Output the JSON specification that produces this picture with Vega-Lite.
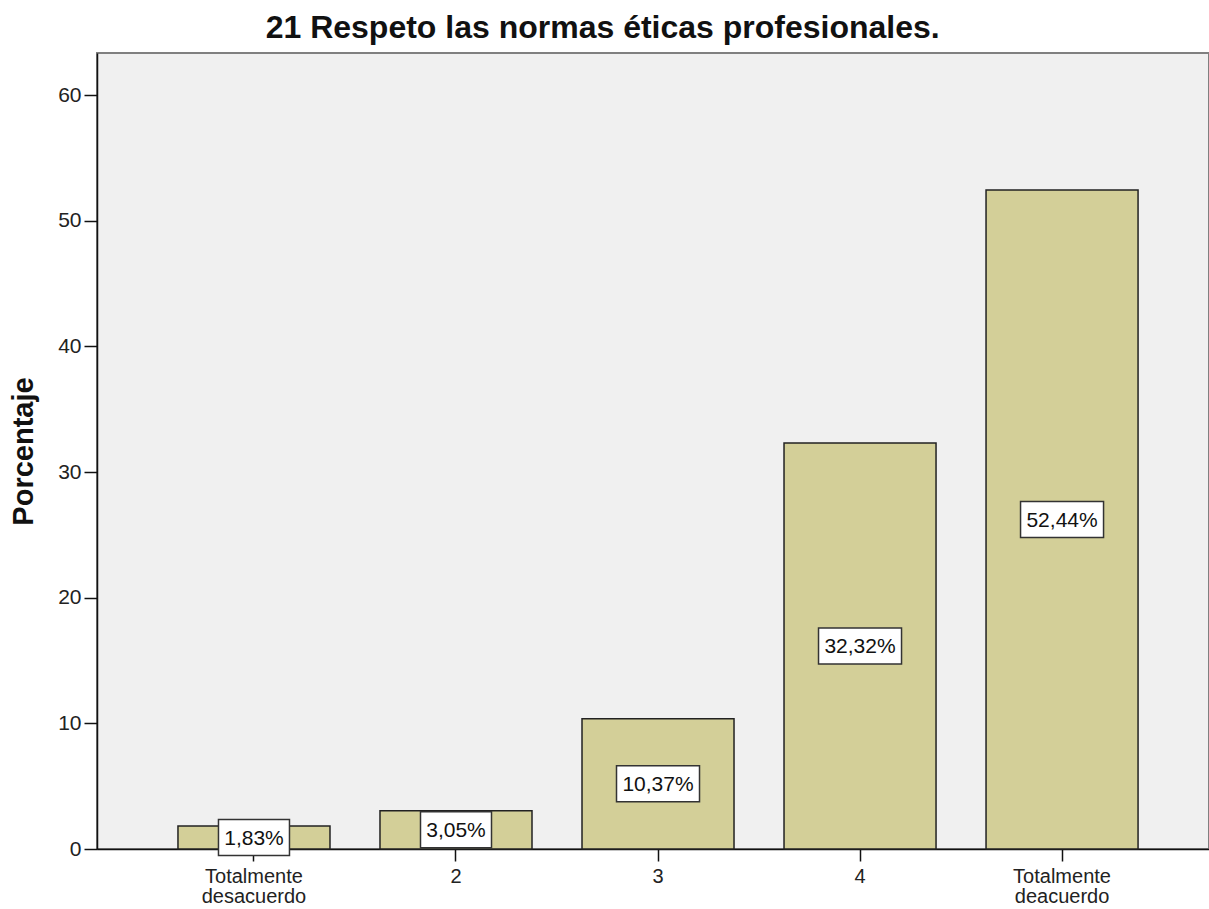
{
  "$schema": "https://vega.github.io/schema/vega-lite/v6.json",
  "width": 1112,
  "height": 796,
  "autosize": "none",
  "padding": {"left": 97, "top": 53, "right": 0, "bottom": 60},
  "background": "white",
  "config": {
    "font": "Liberation Sans",
    "view": {"fill": "#f0f0f0", "stroke": "#808080", "strokeWidth": 2}
  },
  "title": {
    "text": "21 Respeto las normas éticas profesionales.",
    "fontSize": 32,
    "fontWeight": "bold",
    "color": "#111111",
    "anchor": "start",
    "dx": 256,
    "offset": 8
  },
  "data": {
    "values": [
      {"category": "Totalmente|desacuerdo", "value": 1.83, "label": "1,83%"},
      {"category": "2", "value": 3.05, "label": "3,05%"},
      {"category": "3", "value": 10.37, "label": "10,37%"},
      {"category": "4", "value": 32.32, "label": "32,32%"},
      {"category": "Totalmente|deacuerdo", "value": 52.44, "label": "52,44%"}
    ]
  },
  "encoding": {
    "x": {
      "field": "category",
      "type": "nominal",
      "sort": null,
      "scale": {"paddingInner": 0.2475, "paddingOuter": 0.376, "align": 0.533},
      "axis": {
        "title": null,
        "labelAngle": 0,
        "labelExpr": "split(datum.value, '|')",
        "labelFontSize": 20,
        "labelLineHeight": 20,
        "labelColor": "#222222",
        "labelPadding": 5,
        "tickSize": 12,
        "tickWidth": 1.5,
        "tickColor": "#111111",
        "domainColor": "#111111",
        "domainWidth": 1.5
      }
    }
  },
  "layer": [
    {
      "mark": {"type": "bar", "fill": "#d3cf98", "stroke": "#222222", "strokeWidth": 1.5},
      "encoding": {
        "y": {
          "field": "value",
          "type": "quantitative",
          "scale": {"domain": [0, 63.35], "nice": false},
          "axis": {
            "title": "Porcentaje",
            "titleFontSize": 29,
            "titleFontWeight": "bold",
            "titleColor": "#111111",
            "titlePadding": 19,
            "values": [0, 10, 20, 30, 40, 50, 60],
            "grid": false,
            "labelFontSize": 21,
            "labelColor": "#222222",
            "labelPadding": 3,
            "tickSize": 13,
            "tickWidth": 1.5,
            "tickColor": "#111111",
            "domainColor": "#111111",
            "domainWidth": 1.5
          }
        }
      }
    },
    {
      "layer": [
        {
          "mark": {"type": "point", "filled": true, "fill": "white", "stroke": "#333333", "strokeWidth": 1.5, "opacity": 1},
          "encoding": {
            "shape": {
              "condition": {"test": "datum.value < 10", "value": "M-1,-0.507L1,-0.507L1,0.507L-1,0.507Z"},
              "value": "M-1,-0.434L1,-0.434L1,0.434L-1,0.434Z"
            },
            "size": {
              "condition": {"test": "datum.value < 10", "value": 5041},
              "value": 6889
            }
          }
        },
        {
          "mark": {"type": "text", "fontSize": 21, "color": "#111111", "align": "center", "baseline": "middle", "dy": 1},
          "encoding": {"text": {"field": "label"}}
        }
      ],
      "encoding": {
        "y": {
          "field": "value",
          "type": "quantitative",
          "scale": {"domain": [0, 126.7], "nice": false},
          "axis": null
        }
      }
    }
  ],
  "resolve": {"scale": {"y": "independent"}}
}
